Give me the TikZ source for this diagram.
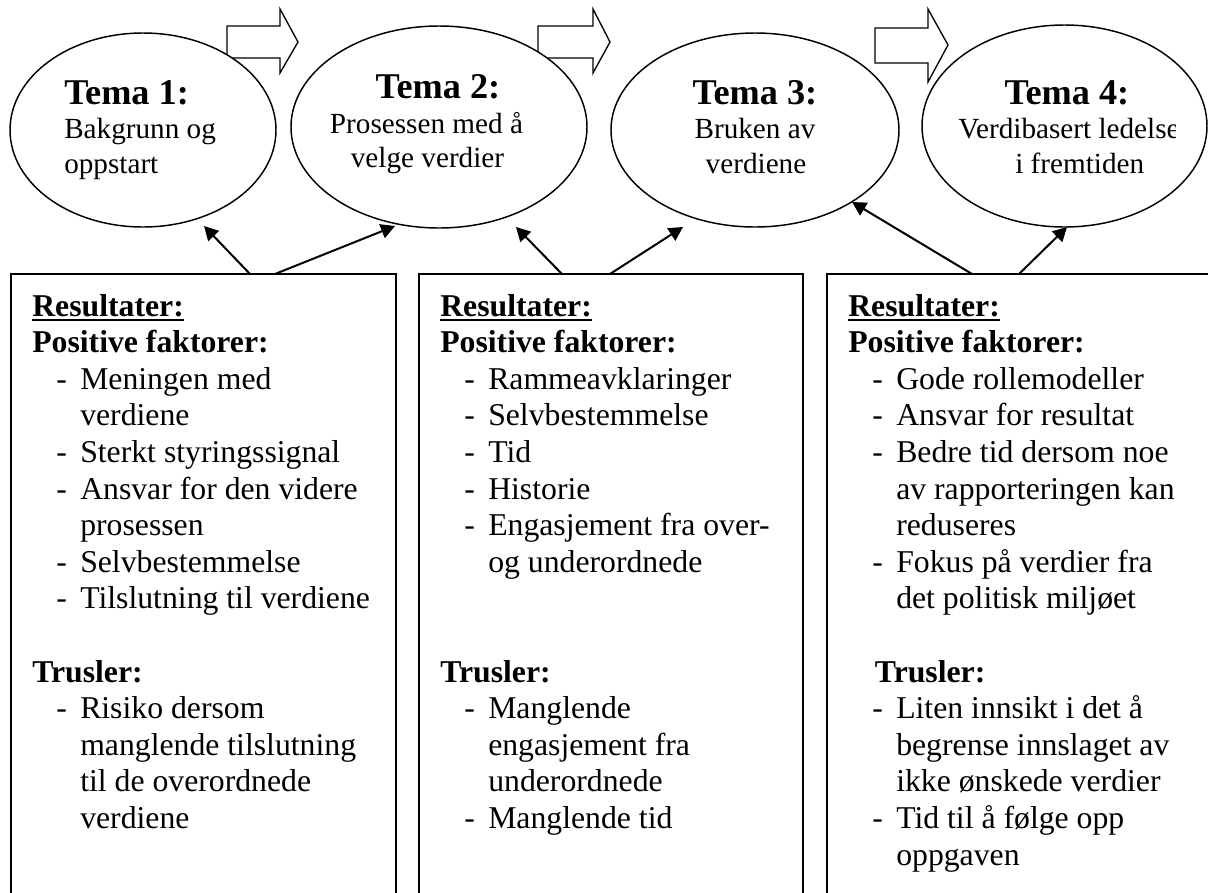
\documentclass[tikz,border=0pt]{standalone}
\usepackage{fontspec}
\setmainfont{Liberation Serif}
\usetikzlibrary{shapes.geometric,arrows.meta}

% underline with a heavier bar than \underline gives
\newcommand\ulbar[1]{\setbox0\hbox{#1}\rlap{\rule[-3.9pt]{\wd0}{1.9pt}}\box0}
% list item with a hanging dash, and its continuation lines
\newcommand\itm[1]{\hspace*{18pt}\makebox[18pt][l]{-}#1}
\newcommand\cnt[1]{\hspace*{36pt}#1}

\begin{document}
\begin{tikzpicture}[x=0.75pt,y=-0.75pt,
  theme/.style={ellipse,draw,fill=white,line width=1.1pt,inner sep=0pt},
  flow/.style={draw,fill=white,line width=1pt,line join=miter},
  panel/.style={rectangle,draw,line width=1.5pt,inner sep=0pt},
  link/.style={line width=1.5pt,-{Triangle[length=10.5pt,width=11pt]}},
  ttl/.style={inner sep=0pt,font=\fontsize{27.2pt}{31pt}\selectfont\bfseries},
  sub/.style={inner sep=0pt,font=\fontsize{21.9pt}{25pt}\selectfont},
  boxtext/.style={anchor=base west,inner sep=0pt,font=\fontsize{23.8pt}{27.45pt}\selectfont}]

\useasboundingbox (0,0) rectangle (1208,893);
\clip (0,0) rectangle (1208,893);

% hollow block arrows between the themes
\draw[flow] (227,26) -- (280,26) -- (280,9) -- (298,42) -- (280,73) -- (280,58) -- (227,58) -- cycle;
\draw[flow] (538,26) -- (593,26) -- (593,9) -- (610,42) -- (593,73) -- (593,58) -- (538,58) -- cycle;
\draw[flow] (875,28) -- (928,28) -- (928,9) -- (948,45) -- (928,82) -- (928,63) -- (875,63) -- cycle;

% themes
\node[theme,minimum width=266*0.75pt,minimum height=194*0.75pt] (e1) at (143,130) {};
\node[theme,minimum width=296*0.75pt,minimum height=202*0.75pt] (e2) at (439,127) {};
\node[theme,minimum width=288*0.75pt,minimum height=194*0.75pt] (e3) at (755,130) {};
\node[theme,minimum width=285*0.75pt,minimum height=202*0.75pt] (e4) at (1064.5,126) {};

% theme texts
\node[ttl,anchor=base west] (t1a) at (64,104) {Tema 1:};
\node[sub,anchor=base west] (t1b) at (64,138.5) {Bakgrunn og};
\node[sub,anchor=base west] (t1c) at (64,173) {oppstart};

\node[ttl,anchor=base] (t2a) at (438,98) {Tema 2:};
\node[sub,anchor=base] (t2b) at (426.5,133) {Prosessen med å};
\node[sub,anchor=base] (t2c) at (427.5,167) {velge verdier};

\node[ttl,anchor=base] (t3a) at (755,104) {Tema 3:};
\node[sub,anchor=base] (t3b) at (755,138) {Bruken av};
\node[sub,anchor=base] (t3c) at (756,173) {verdiene};

\node[ttl,anchor=base] (t4a) at (1067,104) {Tema 4:};
\begin{scope}
  \clip (940,110) rectangle (1175,150);
  \node[sub,anchor=base west] (t4b) at (958,138) {Verdibasert ledelse};
\end{scope}
\node[sub,anchor=base west] (t4c) at (1015,173) {i fremtiden};

% result panels
\node[panel,minimum width=385*0.75pt,minimum height=626*0.75pt] (b1) at (203.5,587) {};
\node[panel,minimum width=384*0.75pt,minimum height=626*0.75pt] (b2) at (611,587) {};
\node[panel,minimum width=388*0.75pt,minimum height=626*0.75pt] (b3) at (1021,587) {};

% connector ends
\coordinate (s1) at (250,274);  \coordinate (h1) at (204,226);
\coordinate (s2) at (275,274);  \coordinate (h2) at (395,226);
\coordinate (s3) at (562,274);  \coordinate (h3) at (516,227);
\coordinate (s4) at (610,274);  \coordinate (h4) at (683,227);
\coordinate (s5) at (972,274);  \coordinate (h5) at (852,202);
\coordinate (s6) at (1019,274); \coordinate (h6) at (1067,227);

\draw[link] (s1) -- (h1);
\draw[link] (s2) -- (h2);
\draw[link] (s3) -- (h3);
\draw[link] (s4) -- (h4);
\draw[link] (s5) -- (h5);
\draw[link] (s6) -- (h6);

% panel contents
\node[boxtext] (p1) at (32,316) {\parbox[t]{360pt}{%
\textbf{\ulbar{Resultater:}}\\
\textbf{Positive faktorer:}\\
\itm{Meningen med}\\
\cnt{verdiene}\\
\itm{Sterkt styringssignal}\\
\itm{Ansvar for den videre}\\
\cnt{prosessen}\\
\itm{Selvbestemmelse}\\
\itm{Tilslutning til verdiene}\\
\mbox{}\\
\textbf{Trusler:}\\
\itm{Risiko dersom}\\
\cnt{manglende tilslutning}\\
\cnt{til de overordnede}\\
\cnt{verdiene}}};

\node[boxtext] (p2) at (440,316) {\parbox[t]{360pt}{%
\textbf{\ulbar{Resultater:}}\\
\textbf{Positive faktorer:}\\
\itm{Rammeavklaringer}\\
\itm{Selvbestemmelse}\\
\itm{Tid}\\
\itm{Historie}\\
\itm{Engasjement fra over-}\\
\cnt{og underordnede}\\
\mbox{}\\
\mbox{}\\
\textbf{Trusler:}\\
\itm{Manglende}\\
\cnt{engasjement fra}\\
\cnt{underordnede}\\
\itm{Manglende tid}}};

\node[boxtext] (p3) at (848,316) {\parbox[t]{360pt}{%
\textbf{\ulbar{Resultater:}}\\
\textbf{Positive faktorer:}\\
\itm{Gode rollemodeller}\\
\itm{Ansvar for resultat}\\
\itm{Bedre tid dersom noe}\\
\cnt{av rapporteringen kan}\\
\cnt{reduseres}\\
\itm{Fokus på verdier fra}\\
\cnt{det politisk miljøet}\\
\mbox{}\\
\hspace*{20pt}\textbf{Trusler:}\\
\itm{Liten innsikt i det å}\\
\cnt{begrense innslaget av}\\
\cnt{ikke ønskede verdier}\\
\itm{Tid til å følge opp}\\
\cnt{oppgaven}}};

\end{tikzpicture}
\end{document}
